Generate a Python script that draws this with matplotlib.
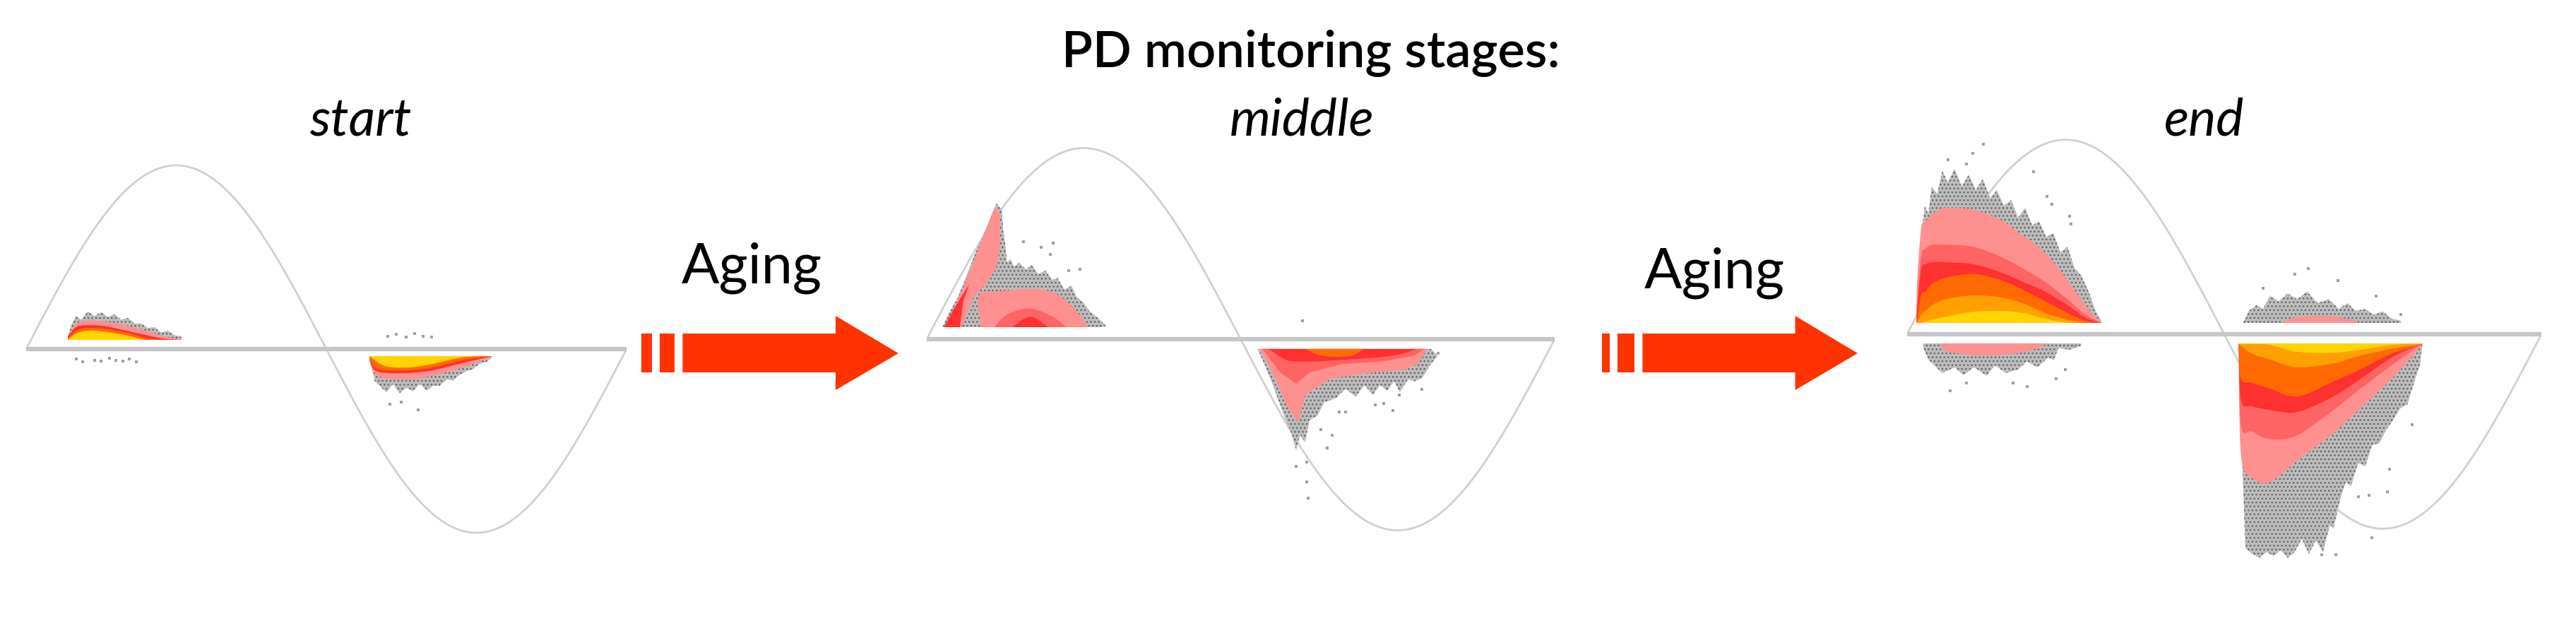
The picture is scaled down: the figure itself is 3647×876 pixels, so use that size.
import numpy as np
import matplotlib
matplotlib.use("Agg")
import matplotlib.pyplot as plt
from matplotlib.patches import Polygon, Rectangle, PathPatch
from matplotlib.path import Path

W, H = 3648, 876
plt.rcParams['font.family'] = ['Lato', 'DejaVu Sans']

# ---------- text ----------
TITLE = "PD monitoring stages:"
STAGES = ["start", "middle", "end"]
ARROW_LABEL = "Aging"

# ---------- colours ----------
GREY, PINK, MID, RED, ORANGE, AMBER, YELLOW = ('#bcbcbc', '#ff9090', '#ff6464', '#ff3030',
                                               '#ff6a00', '#ffa000', '#ffd400')
WAVE = '#d0d0d0'
LINE = '#c6c6c6'
ARROW = '#ff3300'

# ---------- stage 1: phase (deg), amplitude (relative to the sine) ----------
S1_POS_GREY_PH = [25, 27, 30, 33, 37, 41, 45, 49, 53, 57, 61, 65, 69, 73, 77, 81, 85, 89, 93]
S1_POS_GREY = [.06, .13, .18, .16, .205, .18, .2, .175, .19, .16, .17, .14, .14, .115, .12, .09, .10, .075, .07]
S1_POS_PH = [25, 30, 37, 47, 60, 72, 83, 93]
S1_POS_PINK = [.07, .137, .155, .15, .13, .10, .07, .052]
S1_POS_RED = [.068, .12, .13, .125, .10, .076, .056, .05]
S1_POS_ORANGE = [.06, .10, .115, .11, .09, .06, .05, .05]
S1_POS_YELLOW = [.05, .085, .10, .095, .075, .05, .05, .05]

S1_NEG_GREY_PH = [206, 209, 212, 216, 220, 224, 228, 232, 236, 240, 244, 248, 252, 256, 260, 264, 268, 272, 276, 279]
S1_NEG_GREY = [-.05, -.175, -.2, -.236, -.19, -.24, -.21, -.23, -.19, -.225, -.2, -.2, -.165, -.17, -.14, -.12,
               -.11, -.08, -.07, -.05]
S1_NEG_PH = [206, 209, 216, 230, 244, 262, 279]
S1_NEG_PINK = [-.07, -.13, -.16, -.165, -.145, -.10, -.045]
S1_NEG_RED = [-.06, -.115, -.13, -.13, -.115, -.075, -.04]
S1_NEG_ORANGE = [-.05, -.10, -.115, -.115, -.10, -.06, -.038]
S1_NEG_YELLOW = [-.04, -.06, -.095, -.10, -.08, -.045, -.038]

S1_SPECK_PH = [30, 34, 41, 45, 50, 54, 58, 62, 66, 217, 222, 228, 233, 238, 243, 218, 225, 235]
S1_SPECK_AMP = [-.055, -.07, -.06, -.065, -.05, -.06, -.065, -.055, -.07,
                .07, .08, .065, .085, .07, .065, -.30, -.29, -.33]

# ---------- stage 2 ----------
S2_POS_GREY_PH = [9, 13, 18, 24, 30, 35, 40, 43, 44, 45, 46, 48, 50, 53, 57, 60, 64, 68, 72, 75, 79, 83, 86, 90,
                  93, 97, 103, 100]
S2_POS_GREY_AMP = [.063, .14, .22, .36, .50, .60, .71, .68, .56, .50, .40, .42, .38, .40, .365, .39, .34, .36,
                   .31, .32, .26, .28, .22, .19, .15, .12, .07, .063]
S2_SPIKE_PINK_PH = [11, 20, 30, 39, 42, 42, 40, 33, 27, 20]
S2_SPIKE_PINK_AMP = [.063, .25, .48, .69, .66, .48, .37, .28, .22, .063]
S2_SPIKE_RED_PH = [10, 15, 24.5, 21, 19]
S2_SPIKE_RED_AMP = [.063, .15, .29, .20, .063]
S2_HUMP_PINK_PH = [31, 30, 41, 62, 75, 86, 93]
S2_HUMP_PINK_AMP = [.063, .23, .25, .263, .234, .146, .063]
S2_HUMP_MID_PH = [38.7, 46.5, 59.4, 72.3, 80]
S2_HUMP_MID_AMP = [.063, .131, .16, .117, .063]
S2_HUMP_RED_PH = [49, 59.4, 69.7]
S2_HUMP_RED_AMP = [.063, .117, .063]

S2_NEG_GREY_PH = [189.8, 194, 198.8, 204, 209.2, 211.8, 214, 216.9, 219.5, 224, 228, 235, 240, 246, 251, 255.7,
                  260, 264, 268, 271.2, 276, 280, 284, 289, 293, 289.2]
S2_NEG_GREY_AMP = [-.051, -.14, -.248, -.38, -.496, -.584, -.50, -.54, -.423, -.40, -.33, -.307, -.26, -.30, -.24,
                   -.292, -.24, -.27, -.22, -.277, -.21, -.22, -.204, -.13, -.088, -.051]
S2_NEG_PINK_PH = [191, 199, 206.6, 213, 217, 232.4, 255.7, 273.7, 281.5, 287.2]
S2_NEG_PINK_AMP = [-.051, -.19, -.35, -.438, -.292, -.204, -.175, -.16, -.131, -.051]
S2_NEG_MID_PH = [192.4, 202.7, 211.8, 219.5, 237.6, 260.8, 279, 285.4]
S2_NEG_MID_AMP = [-.051, -.175, -.234, -.175, -.131, -.117, -.088, -.051]
S2_NEG_RED_PH = [196, 206.6, 219.5, 235, 266, 281.5]
S2_NEG_RED_AMP = [-.051, -.11, -.117, -.11, -.088, -.051]
S2_NEG_ORANGE_PH = [217, 227, 242.8, 250.5]
S2_NEG_ORANGE_AMP = [-.051, -.088, -.088, -.051]

S2_SPECK_PH = [55.5, 72.3, 65.8, 71, 87.8, 81.3, 215.6, 293, 284, 271, 267.3, 257, 262, 240, 232.4,
               229.8, 211.8, 217.7, 217.7, 218.7, 226, 236.3]
S2_SPECK_AMP = [.511, .504, .482, .445, .365, .358, .095, -.073, -.263, -.292, -.372, -.343, -.336,
                -.38, -.504, -.569, -.664, -.642, -.745, -.832, -.474, -.38]

# ---------- stage 3 ----------
S3_POS_GREY_PH = [5.4, 7, 8.5, 10, 12, 14, 17, 20, 23, 27, 31, 35, 39, 43, 47, 51, 55, 59, 63, 67, 71, 75, 79, 83,
                  87, 91, 95, 99, 103, 107, 110.2]
S3_POS_GREY = [.06, .35, .54, .66, .62, .76, .72, .84, .78, .85, .76, .82, .74, .80, .70, .74, .66, .69, .60, .65,
               .56, .58, .50, .52, .42, .45, .34, .30, .22, .12, .07]
S3_POS_PH = [5.4, 7.9, 10.5, 14.3, 22, 37.3, 52.7, 65.4, 78.2, 91, 101.2, 110.2]
S3_POS_PINK = [.23, .54, .58, .62, .65, .64, .59, .51, .42, .28, .15, .06]
S3_POS_MID = [.12, .40, .44, .46, .46, .45, .40, .34, .27, .18, .10, .06]
S3_POS_RED = [.10, .33, .36, .37, .37, .36, .32, .27, .22, .15, .085, .058]
S3_POS_ORANGE = [.06, .20, .22, .26, .29, .31, .28, .23, .17, .11, .07, .058]
S3_POS_AMBER = [.058, .10, .12, .15, .18, .20, .19, .16, .11, .075, .058, .058]
S3_POS_YELLOW = [.058, .06, .065, .075, .09, .115, .12, .11, .08, .06, .058, .058]

S3_UP2_PH = [190.7, 194, 198.4, 202, 206, 211, 216, 221.4, 227, 233, 239.3, 245, 250, 254.7, 260, 265, 270, 275, 280.2]
S3_UP2_GREY = [.06, .12, .15, .13, .197, .17, .21, .18, .22, .16, .181, .13, .16, .12, .13, .10, .118, .08, .07]
S3_UP2_PINK_PH = [211, 221, 239, 255]
S3_UP2_PINK = [.058, .087, .094, .07]

S3_LOW_PH = [9.2, 12, 14.3, 20, 27, 32, 38, 45, 50, 56, 63, 68, 74, 80, 83.3, 85.9, 92, 98.7]
S3_LOW_GREY = [-.07, -.13, -.15, -.2, -.17, -.21, -.17, -.213, -.16, -.2, -.181, -.14, -.17, -.12, -.134, -.07,
               -.08, -.06]
S3_LOW_PINK_PH = [19.4, 22, 42.4, 65.4, 80.8]
S3_LOW_PINK = [-.047, -.087, -.11, -.094, -.047]

S3_NEG_GREY_PH = [188.2, 190, 192, 196, 200, 204, 208, 212, 216, 220, 224, 228, 232, 236, 240, 242, 244, 246, 249,
                  252, 256, 260, 264, 268, 272, 276, 280, 284, 288, 291, 292.5]
S3_NEG_GREY = [-.05, -.6, -1.10, -1.13, -1.15, -1.12, -1.14, -1.11, -1.15, -1.12, -1.05, -1.13, -1.06, -1.12, -.98,
               -1.0, -.92, -.84, -.76, -.78, -.66, -.68, -.57, -.56, -.49, -.44, -.38, -.36, -.24, -.16, -.05]
S3_NEG_PH = [188.2, 189.5, 195.8, 206, 221.4, 241.9, 257.3, 275, 289, 292.5]
S3_NEG_PINK = [-.05, -.62, -.74, -.76, -.65, -.51, -.38, -.23, -.09, -.05]
S3_NEG_MID = [-.05, -.47, -.50, -.54, -.52, -.39, -.28, -.16, -.07, -.05]
S3_NEG_RED = [-.05, -.34, -.37, -.39, -.40, -.32, -.23, -.12, -.06, -.05]
S3_NEG_ORANGE = [-.05, -.23, -.25, -.28, -.32, -.244, -.18, -.10, -.06, -.05]
S3_NEG_AMBER = [-.05, -.06, -.10, -.13, -.17, -.15, -.11, -.075, -.055, -.05]
S3_NEG_YELLOW = [-.05, -.05, -.05, -.055, -.09, -.095, -.08, -.055, -.05, -.05]

S3_SPECK_PH = [43.2, 37.3, 23.3, 33.5, 71.8, 79.5, 82, 92.3, 93, 227.8, 220, 244.4, 202.2, 266.2, 280.2,
               24.5, 33.5, 60.3, 68, 84.6, 89.7, 94.9, 263.6, 272.6, 262.3, 256, 273.8, 286.6, 243.2, 235.5]
S3_SPECK_AMP = [.976, .929, .898, .874, .835, .709, .669, .606, .567, .339, .307, .276, .236, .197, .102,
                -.291, -.252, -.252, -.268, -.228, -.181, -.063, -1.047, -.811, -.827, -.835, -.693,
                -.465, -1.134, -1.134]

# ---------- figure ----------
fig = plt.figure(figsize=(W / 100, H / 100), dpi=100, facecolor='white')


def panel(x0, x1, y_peak, y_zero, y_trough):
    """Axes whose 0..360 deg span x0..x1 px and whose +1/-1 sit at y_peak/y_trough px."""
    y_amp = (y_trough - y_peak) / 2
    bottom = y_zero + 1.35 * y_amp
    top = y_zero - 1.15 * y_amp
    ax = fig.add_axes([x0 / W, 1 - bottom / H, (x1 - x0) / W, (bottom - top) / H])
    ax.set_xlim(0, 360)
    ax.set_ylim(-1.35, 1.15)
    ax.axis('off')
    ph = np.arange(0, 361, 2)
    ax.plot(ph, np.sin(np.radians(ph)), color=WAVE, lw=2.0, zorder=1, solid_capstyle='round')
    ax.plot([0, 360], [0, 0], color=LINE, lw=4.5, zorder=1, solid_capstyle='butt')
    return ax


def grey_poly(ax, ph, amp):
    xy = np.column_stack([ph, amp])
    ax.add_patch(Polygon(xy, facecolor='white', edgecolor='none', zorder=2))
    ax.add_patch(Polygon(xy, facecolor=GREY, edgecolor='#5e5e5e', hatch='...', lw=0, zorder=2.1))


def grey_band(ax, ph, base, outer):
    xy = list(zip(ph, outer)) + [(ph[-1], base), (ph[0], base)]
    grey_poly(ax, [p[0] for p in xy], [p[1] for p in xy])


def smooth(ax, ph, amp, col, z, base):
    """Draw a Bezier curve through the read points, closed along the base level."""
    p = np.column_stack([ph, amp]).astype(float)
    verts, codes = [p[0]], [Path.MOVETO]
    for i in range(len(p) - 1):
        a = p[max(i - 1, 0)]
        b, c = p[i], p[i + 1]
        d = p[min(i + 2, len(p) - 1)]
        verts += [b + (c - a) / 6, c - (d - b) / 6, c]
        codes += [Path.CURVE4] * 3
    verts += [(ph[-1], base), (ph[0], base), p[0]]
    codes += [Path.LINETO, Path.LINETO, Path.CLOSEPOLY]
    patch = PathPatch(Path(verts, codes), facecolor=col, edgecolor='none', zorder=z)
    ax.add_patch(patch)
    y0, y1 = (base, 5) if amp[len(amp) // 2] > base else (-5, base)
    patch.set_clip_path(Rectangle((0, y0), 360, y1 - y0, transform=ax.transData))


def layers(ax, ph, base, stack):
    for i, (vals, col) in enumerate(stack):
        smooth(ax, ph, vals, col, 3 + i * 0.1, base)


def poly(ax, ph, amp, col, z):
    ax.fill(ph, amp, facecolor=col, edgecolor='none', zorder=z)


def specks(ax, ph, amp):
    ax.scatter(ph, amp, s=9, marker='s', color='#a0a0a0', linewidths=0, zorder=2.5)


# stage 1
a1 = panel(37, 887, 231, 494, 751)
grey_band(a1, S1_POS_GREY_PH, .05, S1_POS_GREY)
layers(a1, S1_POS_PH, .05, [(S1_POS_PINK, PINK), (S1_POS_RED, RED), (S1_POS_ORANGE, ORANGE), (S1_POS_YELLOW, YELLOW)])
grey_band(a1, S1_NEG_GREY_PH, -.038, S1_NEG_GREY)
layers(a1, S1_NEG_PH, -.038, [(S1_NEG_PINK, PINK), (S1_NEG_RED, RED), (S1_NEG_ORANGE, ORANGE), (S1_NEG_YELLOW, YELLOW)])
specks(a1, S1_SPECK_PH, S1_SPECK_AMP)

# stage 2
a2 = panel(1312, 2201, 208, 480, 749)
grey_poly(a2, S2_POS_GREY_PH, S2_POS_GREY_AMP)
smooth(a2, S2_HUMP_PINK_PH, S2_HUMP_PINK_AMP, PINK, 3, .063)
smooth(a2, S2_HUMP_MID_PH, S2_HUMP_MID_AMP, MID, 3.1, .063)
smooth(a2, S2_HUMP_RED_PH, S2_HUMP_RED_AMP, RED, 3.2, .063)
poly(a2, S2_SPIKE_PINK_PH, S2_SPIKE_PINK_AMP, PINK, 3.3)
poly(a2, S2_SPIKE_RED_PH, S2_SPIKE_RED_AMP, RED, 3.4)
grey_poly(a2, S2_NEG_GREY_PH, S2_NEG_GREY_AMP)
poly(a2, S2_NEG_PINK_PH, S2_NEG_PINK_AMP, PINK, 3)
poly(a2, S2_NEG_MID_PH, S2_NEG_MID_AMP, MID, 3.1)
smooth(a2, S2_NEG_RED_PH, S2_NEG_RED_AMP, RED, 3.2, -.051)
smooth(a2, S2_NEG_ORANGE_PH, S2_NEG_ORANGE_AMP, ORANGE, 3.3, -.051)
specks(a2, S2_SPECK_PH, S2_SPECK_AMP)

# stage 3
a3 = panel(2700, 3598, 195.5, 473, 746)
grey_band(a3, S3_POS_GREY_PH, .058, S3_POS_GREY)
layers(a3, S3_POS_PH, .058, [(S3_POS_PINK, PINK), (S3_POS_MID, MID), (S3_POS_RED, RED), (S3_POS_ORANGE, ORANGE),
                             (S3_POS_AMBER, AMBER), (S3_POS_YELLOW, YELLOW)])
grey_band(a3, S3_UP2_PH, .058, S3_UP2_GREY)
layers(a3, S3_UP2_PINK_PH, .058, [(S3_UP2_PINK, PINK)])
grey_band(a3, S3_LOW_PH, -.047, S3_LOW_GREY)
layers(a3, S3_LOW_PINK_PH, -.047, [(S3_LOW_PINK, PINK)])
grey_band(a3, S3_NEG_GREY_PH, -.047, S3_NEG_GREY)
layers(a3, S3_NEG_PH, -.047, [(S3_NEG_PINK, PINK), (S3_NEG_MID, MID), (S3_NEG_RED, RED), (S3_NEG_ORANGE, ORANGE),
                              (S3_NEG_AMBER, AMBER), (S3_NEG_YELLOW, YELLOW)])
specks(a3, S3_SPECK_PH, S3_SPECK_AMP)

# overlay for text and arrows, in figure pixels
ov = fig.add_axes([0, 0, 1, 1], facecolor='none')
ov.set_xlim(0, W)
ov.set_ylim(H, 0)
ov.axis('off')

ov.text(1856, 95, TITLE, fontsize=52, fontweight='semibold', ha='center', va='baseline', color='black')
for x, s in zip([510, 1843, 3120], STAGES):
    ov.text(x, 191, s, fontsize=53, fontstyle='italic', ha='center', va='baseline', color='black')


def arrow(b1, b2, b3, b4, sh, hd, tip):
    ov.add_patch(Rectangle((b1, 472), b2 - b1, 55, color=ARROW, lw=0))
    ov.add_patch(Rectangle((b3, 472), b4 - b3, 55, color=ARROW, lw=0))
    ov.add_patch(Polygon([(sh, 472), (hd, 472), (hd, 447), (tip, 500), (hd, 552), (hd, 527), (sh, 527)],
                         closed=True, color=ARROW, lw=0))


arrow(908.5, 923.5, 933.6, 955.4, 966.4, 1183, 1272)
arrow(2268, 2279.5, 2289.6, 2314.4, 2325.4, 2541.5, 2630)
ov.text(1064, 400, ARROW_LABEL, fontsize=57, ha='center', va='baseline', color='black')
ov.text(2427, 407, ARROW_LABEL, fontsize=57, ha='center', va='baseline', color='black')

fig.savefig('out.png', dpi=100, facecolor='white')
